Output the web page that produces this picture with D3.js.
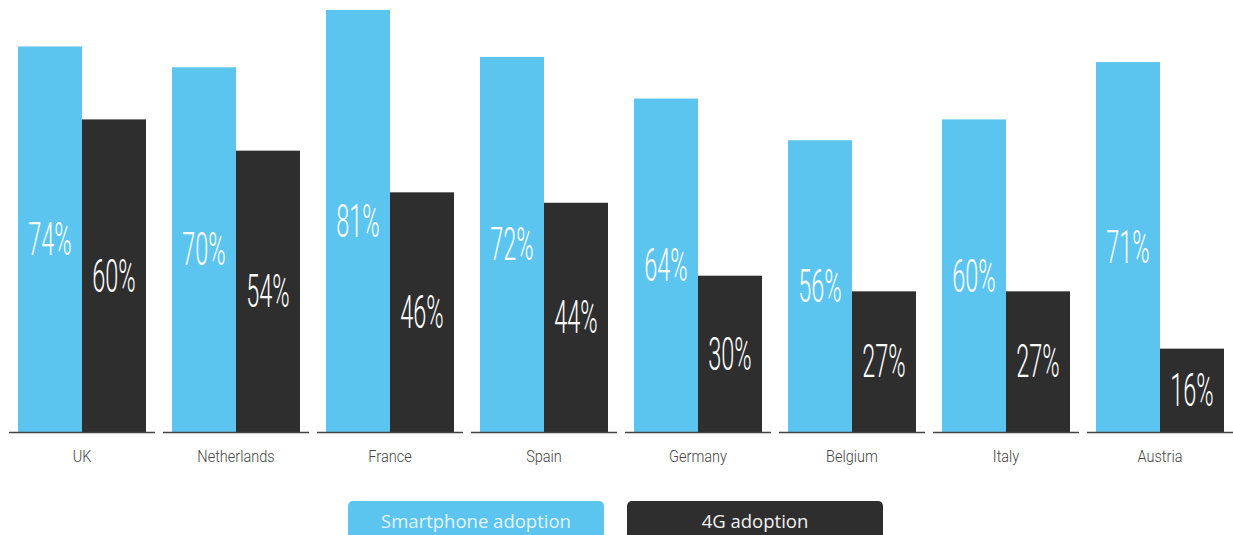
<!DOCTYPE html>
<html><head><meta charset="utf-8">
<script src="https://cdn.jsdelivr.net/npm/d3@7"></script>
<style>html,body{margin:0;padding:0;background:#fff;overflow:hidden}</style>
</head><body>
<svg id="c" width="1233" height="535"></svg>
<script>
const countries = ["UK","Netherlands","France","Spain","Germany","Belgium","Italy","Austria"];
const smartphone = [74,70,81,72,64,56,60,71];
const fourG = [60,54,46,44,30,27,27,16];
const seriesNames = ["Smartphone adoption","4G adoption"];
const colors = ["#5BC5F0","#2E2E2E"];

const svg = d3.select("#c");
const baseY = 432;
const x = d3.scaleBand().domain(countries).range([9, 9 + 154*countries.length]);
const xi = d3.scaleBand().domain([0,1]).range([9, 137]);
const y = d3.scaleLinear().domain([0,100]).range([baseY, baseY - 521]);

const data = countries.map((c,i)=>({c, vals:[smartphone[i], fourG[i]]}));

const g = svg.selectAll("g.grp").data(data).join("g").attr("class","grp")
  .attr("transform", d=>`translate(${x(d.c)},0)`);

g.selectAll("rect").data(d=>d.vals.map((v,k)=>({v,k}))).join("rect")
  .attr("x", d=>xi(d.k)).attr("width", xi.bandwidth())
  .attr("y", d=>y(d.v)).attr("height", d=>baseY - y(d.v))
  .attr("fill", d=>colors[d.k]);

g.selectAll("text.val").data(d=>d.vals.map((v,k)=>({v,k}))).join("text").attr("class","val")
  .attr("transform", d=>`translate(${xi(d.k)+xi.bandwidth()/2},${(y(d.v)+baseY)/2}) scale(0.5,1)`)
  .attr("text-anchor","middle").attr("dominant-baseline","central")
  .attr("font-family","Roboto").attr("font-weight",300).attr("font-size",47)
  .attr("fill","#fff").text(d=>d.v+"%");

g.append("line").attr("x1",0).attr("x2",146).attr("y1",baseY+0.5).attr("y2",baseY+0.5)
  .attr("stroke","#444").attr("stroke-width",1.5);

g.append("text").attr("transform",`translate(73,462) scale(0.88,1)`)
  .attr("text-anchor","middle").attr("font-family","Roboto").attr("font-weight",300).attr("font-size",16.5)
  .attr("fill","#444").text(d=>d.c);

const legX = d3.scaleOrdinal().domain(seriesNames).range([348,627]);
const lg = svg.selectAll("g.leg").data(seriesNames).join("g").attr("class","leg")
  .attr("transform", d=>`translate(${legX(d)},501)`);
lg.append("rect").attr("width",256).attr("height",50).attr("rx",5)
  .attr("fill",(d,i)=>colors[i]);
lg.append("text").attr("x",128).attr("y",27).attr("text-anchor","middle")
  .attr("font-family","Open Sans").attr("font-size",18.5)
  .attr("fill",(d,i)=>i===0?"#e3f4fc":"#f2f2f2").text(d=>d);
</script>
</body></html>
